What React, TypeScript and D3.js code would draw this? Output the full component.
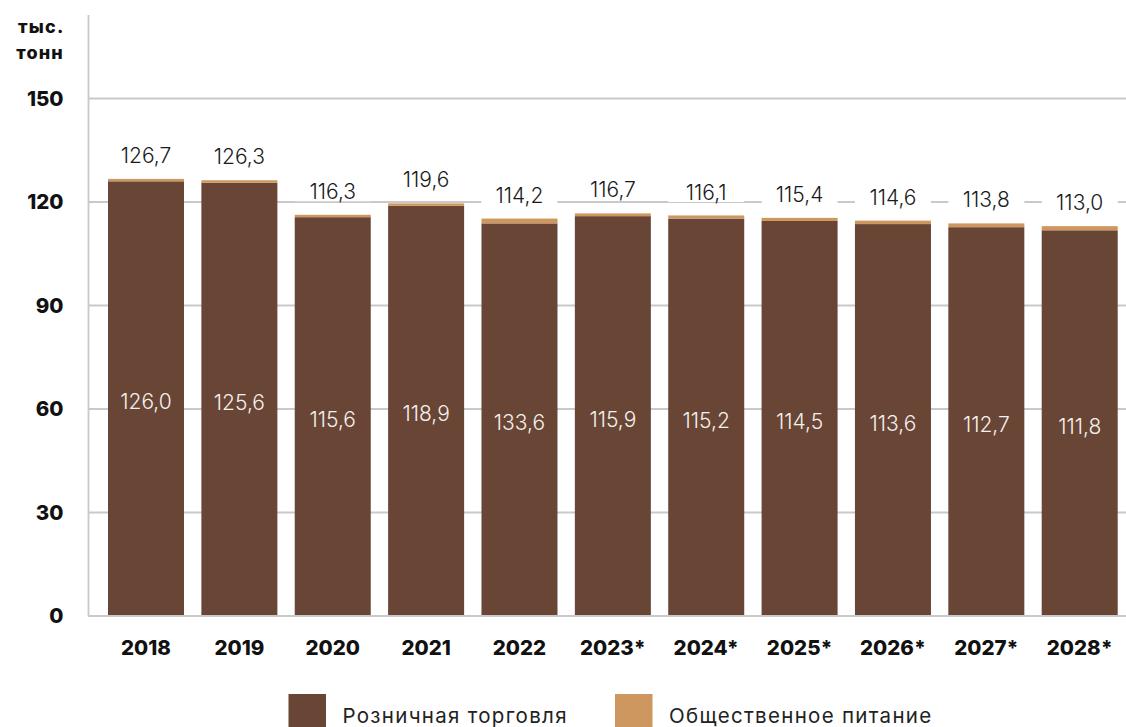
import React from "react";
import * as d3 from "d3";

const years = ["2018", "2019", "2020", "2021", "2022", "2023*", "2024*", "2025*", "2026*", "2027*", "2028*"];
const retail = [126.0, 125.6, 115.6, 118.9, 113.8, 115.9, 115.2, 114.5, 113.6, 112.7, 111.8];
const food = [0.7, 0.7, 0.7, 0.7, 1.4, 0.8, 0.9, 0.9, 1.0, 1.1, 1.2];
const retailLabels = ["126,0", "125,6", "115,6", "118,9", "133,6", "115,9", "115,2", "114,5", "113,6", "112,7", "111,8"];
const totalLabels = ["126,7", "126,3", "116,3", "119,6", "114,2", "116,7", "116,1", "115,4", "114,6", "113,8", "113,0"];
const yTicks = [0, 30, 60, 90, 120, 150];
const seriesNames = ["Розничная торговля", "Общественное питание"];

const W = 1126;
const H = 727;
const DARK = "#694536";
const ORANGE = "#cf9760";
const GRID = "#c9c9c9";
const FONT = "Inter, 'Open Sans', sans-serif";

export default function App() {
  const x = d3
    .scaleBand<string>()
    .domain(years)
    .range([89, 1136.7])
    .paddingInner(0.186)
    .paddingOuter(0.2035);
  const y = d3.scaleLinear().domain([0, 150]).range([616, 98.5]);
  const bw = x.bandwidth();

  return (
    <svg
      width={W}
      height={H}
      style={{ position: "absolute", left: 0, top: 0, display: "block", background: "#fff" }}
      fontFamily={FONT}
    >
      {/* gridlines */}
      {yTicks.slice(1).map((t) => (
        <line key={t} x1={89} x2={W} y1={y(t)} y2={y(t)} stroke={GRID} strokeWidth={1.8} />
      ))}
      {/* y tick labels */}
      {yTicks.map((t) => (
        <text
          key={"yl" + t}
          x={63.5}
          y={y(t)}
          dy="0.36em"
          textAnchor="end"
          fontSize={20.5}
          fontWeight={800}
          fill="#111"
        >
          {t}
        </text>
      ))}
      <text x={64.5} y={33} textAnchor="end" fontSize={18} fontWeight={800} letterSpacing={1.2} fill="#111">
        тыс.
      </text>
      <text x={64} y={59} textAnchor="end" fontSize={18} fontWeight={800} letterSpacing={1.2} fill="#111">
        тонн
      </text>
      {/* bars */}
      {years.map((yr, i) => {
        const x0 = x(yr)!;
        const top = y(retail[i] + food[i]);
        const rTop = y(retail[i]);
        return (
          <g key={yr}>
            <rect x={x0} y={rTop} width={bw} height={y(0) - rTop} fill={DARK} />
            <rect x={x0} y={top} width={bw} height={rTop - top} fill={ORANGE} />
            <text
              x={x0 + bw / 2}
              y={(rTop + y(0)) / 2 + 3}
              dy="0.36em"
              textAnchor="middle"
              fontSize={21}
              fontWeight={300}
              fill="#f4f0ec"
            >
              {retailLabels[i]}
            </text>
            <rect x={x0} y={top - 23.5 - 12} width={bw} height={22} fill="#fff" />
            <text
              x={x0 + bw / 2}
              y={top - 23.5}
              dy="0.36em"
              textAnchor="middle"
              fontSize={21}
              fontWeight={300}
              fill="#1a1a1a"
            >
              {totalLabels[i]}
            </text>
            <text
              x={x0 + bw / 2}
              y={648}
              dy="0.36em"
              textAnchor="middle"
              fontSize={20.5}
              fontWeight={800}
              fill="#111"
            >
              {yr}
            </text>
          </g>
        );
      })}
      {/* axes */}
      <line x1={88.5} x2={88.5} y1={15} y2={616} stroke={GRID} strokeWidth={1.8} />
      <line x1={88} x2={W} y1={616} y2={616} stroke={GRID} strokeWidth={1.8} />
      {/* legend */}
      {seriesNames.map((name, i) => {
        const lx = i === 0 ? 288.5 : 615;
        return (
          <g key={name}>
            <rect x={lx} y={694} width={37.5} height={40} fill={i === 0 ? DARK : ORANGE} />
            <text x={lx + 54} y={723.3} fontSize={20.5} fontWeight={400} letterSpacing={1.3} fill="#222">
              {name}
            </text>
          </g>
        );
      })}
    </svg>
  );
}
